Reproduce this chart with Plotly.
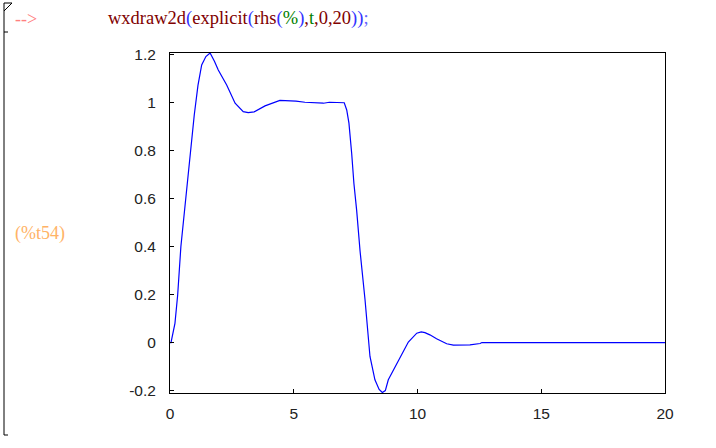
import plotly.graph_objects as go

# ---- data ----
t_vals = [0, 0.04, 0.2, 0.31, 0.44, 0.63, 0.81, 0.98, 1.13, 1.28, 1.45, 1.62, 1.8, 1.95, 2.29, 2.63,
          2.96, 3.16, 3.4, 3.84, 4.44, 4.8, 5.09, 5.45, 6.2, 6.44, 7.04, 7.14, 7.23, 7.34, 7.43,
          7.54, 7.68, 7.88, 8.08, 8.28, 8.45, 8.58, 8.7, 8.82, 9.05, 9.29, 9.63, 9.97, 10.15,
          10.3, 10.5, 10.77, 11.18, 11.45, 12.12, 12.53, 12.6, 20]
y_vals = [0, 0.0, 0.08, 0.198, 0.40, 0.59, 0.795, 0.947, 1.07, 1.155, 1.19, 1.205, 1.17, 1.134, 1.072, 0.996,
          0.961, 0.957, 0.96, 0.985, 1.008, 1.008, 1.005, 1.0, 0.996, 1.0, 0.998, 0.968, 0.913, 0.788, 0.663,
          0.552, 0.38, 0.178, -0.058, -0.155, -0.195, -0.208, -0.2, -0.155, -0.11, -0.058, 0.002, 0.039, 0.044,
          0.041, 0.032, 0.016, -0.005, -0.011, -0.01, -0.004, 0, 0]

x_ticks = [0, 5, 10, 15, 20]
y_ticks = [-0.2, 0, 0.2, 0.4, 0.6, 0.8, 1, 1.2]
y_tick_text = ["-0.2", "0", "0.2", "0.4", "0.6", "0.8", "1", "1.2"]

W, H = 716, 448
L, R, T, B = 170, 665, 53, 393


def px(x):
    return (x - L) / (R - L)


def py(y):
    return (B - y) / (B - T)


fig = go.Figure()
fig.add_trace(go.Scatter(x=t_vals, y=y_vals, mode="lines",
                         line=dict(color="#0000ff", width=1.2), showlegend=False,
                         hoverinfo="skip"))

axis_common = dict(showline=True, linecolor="black", linewidth=1, mirror=True,
                   showgrid=False, zeroline=False, ticks="inside", ticklen=4,
                   tickcolor="black", tickwidth=1,
                   tickfont=dict(family="Liberation Sans, Arial, sans-serif", size=15.5, color="#222"))

fig.update_xaxes(range=[0, 20], tickvals=x_ticks, ticktext=[str(v) for v in x_ticks],
                 ticklabelstandoff=6, **axis_common)
fig.update_yaxes(range=[-0.21, 1.205], tickvals=y_ticks, ticktext=y_tick_text,
                 ticklabelstandoff=10, **axis_common)

serif = "Liberation Serif, Times New Roman, serif"
dr = "#800000"
bl = "#3333ff"
gr = "#008000"
cmd = (f"<span style='color:{dr}'>wxdraw2d</span><span style='color:{bl}'>(</span>"
       f"<span style='color:{dr}'>explicit</span><span style='color:{bl}'>(</span>"
       f"<span style='color:{dr}'>rhs</span><span style='color:{bl}'>(</span>"
       f"<span style='color:{gr}'>%</span><span style='color:{bl}'>)</span>"
       f"<span style='color:{dr}'>,</span><span style='color:{gr}'>t</span>"
       f"<span style='color:{dr}'>,0,20</span><span style='color:{bl}'>))</span>"
       f"<span style='color:#6666ff'>;</span>")

annotations = [
    dict(text="-->", x=px(13), y=py(19), xref="paper", yref="paper", xanchor="left",
         yanchor="middle", showarrow=False, font=dict(family=serif, size=18, color="#ff7f7f")),
    dict(text=cmd, x=px(106), y=py(19), xref="paper", yref="paper", xanchor="left",
         yanchor="middle", showarrow=False, font=dict(family=serif, size=18.5, color=dr)),
    dict(text="(%t54)", x=px(13), y=py(233), xref="paper", yref="paper", xanchor="left",
         yanchor="middle", showarrow=False, font=dict(family=serif, size=18, color="#ffb366")),
]

def seg(x0, y0, x1, y1):
    return dict(type="line", xref="paper", yref="paper", x0=px(x0), y0=py(y0),
                x1=px(x1), y1=py(y1), line=dict(color="black", width=1))

shapes = [
    seg(4, 3, 4, 435),
    seg(4, 3, 12, 3),
    seg(12, 3, 4, 11),
    seg(4, 32, 8, 32),
    seg(4, 435, 8, 435),
]

fig.update_layout(width=W, height=H, margin=dict(l=L, r=W - R, t=T, b=H - B),
                  paper_bgcolor="white", plot_bgcolor="white",
                  annotations=annotations, shapes=shapes)

fig.write_html("out.html", config={"displayModeBar": False},
               post_script="document.body.style.margin='0px';")
